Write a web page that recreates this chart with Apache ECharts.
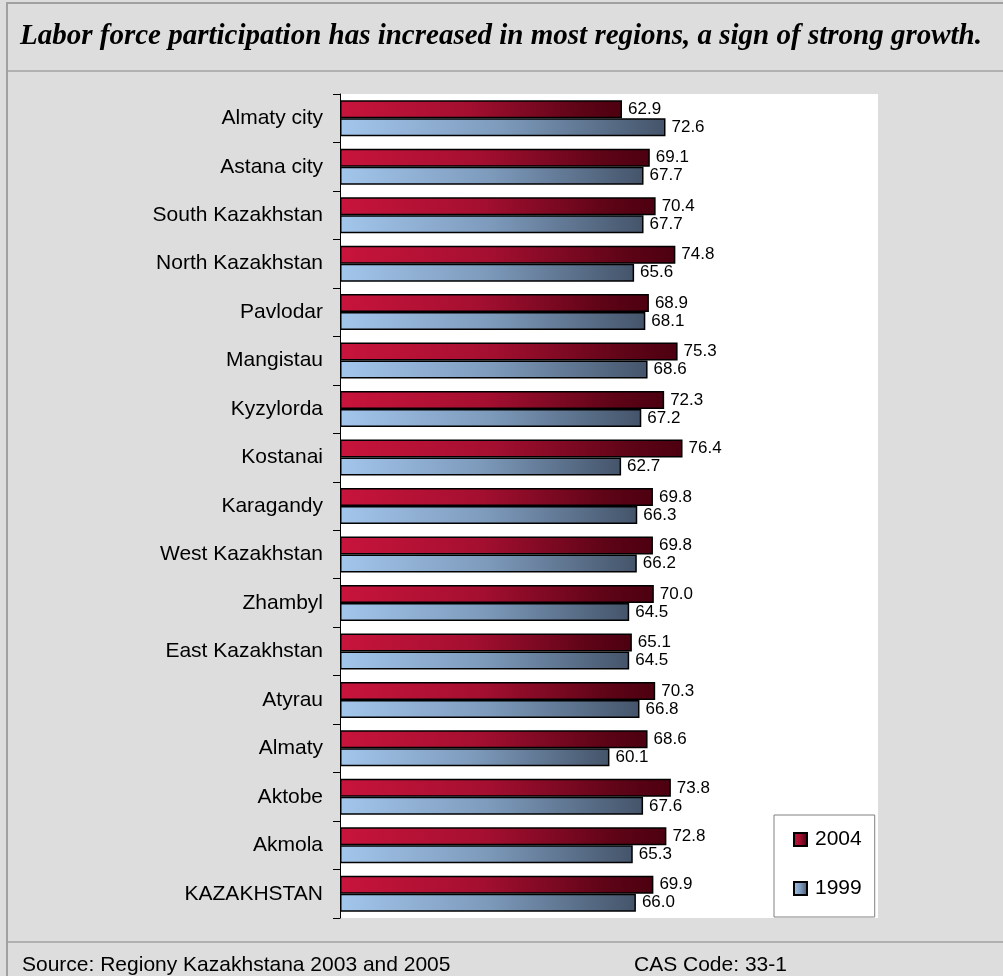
<!DOCTYPE html>
<html>
<head>
<meta charset="utf-8">
<style>
  html, body { margin: 0; padding: 0; background: #dddddd; }
  #chart { width: 1003px; height: 976px; }
</style>
<script src="https://cdn.jsdelivr.net/npm/echarts@6/dist/echarts.min.js"></script>
</head>
<body>
<div id="chart"></div>
<script>
// Regions, listed top to bottom
const regions = [
  'Almaty city', 'Astana city', 'South Kazakhstan', 'North Kazakhstan', 'Pavlodar',
  'Mangistau', 'Kyzylorda', 'Kostanai', 'Karagandy', 'West Kazakhstan', 'Zhambyl',
  'East Kazakhstan', 'Atyrau', 'Almaty', 'Aktobe', 'Akmola', 'KAZAKHSTAN'
];
// Labor force participation rate, %
const rate2004 = [62.9, 69.1, 70.4, 74.8, 68.9, 75.3, 72.3, 76.4, 69.8, 69.8, 70.0, 65.1, 70.3, 68.6, 73.8, 72.8, 69.9];
const rate1999 = [72.6, 67.7, 67.7, 65.6, 68.1, 68.6, 67.2, 62.7, 66.3, 66.2, 64.5, 64.5, 66.8, 60.1, 67.6, 65.3, 66.0];
const seriesNames = ['2004', '1999'];

const titleText = 'Labor force participation has increased in most regions, a sign of strong growth.';
const sourceText = 'Source: Regiony Kazakhstana 2003 and 2005';
const codeText = 'CAS Code: 33-1';

const sans = 'Arial, "Liberation Sans", sans-serif';
const serif = '"Times New Roman", "Liberation Serif", serif';

function hGrad(stops) {
  return {
    type: 'linear', x: 0, y: 0, x2: 1, y2: 0,
    colorStops: stops.map(([offset, color]) => ({ offset, color }))
  };
}
const redFill = hGrad([[0, '#c8143c'], [0.45, '#a40f30'], [0.85, '#5e0417'], [1, '#4c0010']]);
const blueFill = hGrad([[0, '#a3c6ec'], [0.5, '#7d9abb'], [1, '#44546a']]);

function barSeries(name, values, fill) {
  return {
    name: name,
    type: 'bar',
    data: values,
    barWidth: 18,
    barGap: '0%',
    itemStyle: { color: fill, borderColor: '#000', borderWidth: 1.5 },
    label: {
      show: true,
      position: 'right',
      distance: 6,
      color: '#000',
      fontFamily: sans,
      fontSize: 17,
      formatter: p => p.value.toFixed(1)
    },
    emphasis: { disabled: true }
  };
}

const chart = echarts.init(document.getElementById('chart'), null, { renderer: 'canvas' });
chart.setOption({
  backgroundColor: '#dddddd',
  animation: false,
  grid: {
    left: 340, right: 125, top: 94, bottom: 58,
    show: true, backgroundColor: '#ffffff', borderWidth: 0,
    containLabel: false
  },
  xAxis: { type: 'value', min: 0, max: 120, show: false },
  yAxis: {
    type: 'category',
    data: regions,
    inverse: true,
    axisLine: { show: true, lineStyle: { color: '#000', width: 1 } },
    axisTick: { show: true, length: 7, lineStyle: { color: '#000' } },
    axisLabel: { color: '#000', fontFamily: sans, fontSize: 21, margin: 17 },
    splitLine: { show: false }
  },
  legend: {
    data: seriesNames,
    orient: 'vertical',
    left: 774,
    top: 815,
    padding: [14, 13, 18, 19],
    itemGap: 28,
    itemWidth: 13,
    itemHeight: 13,
    icon: 'rect',
    backgroundColor: '#ffffff',
    borderColor: '#808080',
    borderWidth: 1,
    textStyle: { color: '#000', fontFamily: sans, fontSize: 21, padding: [0, 0, 0, 3] }
  },
  series: [
    barSeries(seriesNames[0], rate2004, redFill),
    barSeries(seriesNames[1], rate1999, blueFill)
  ],
  graphic: [
    // outer frame and separators
    { type: 'rect', silent: true, shape: { x: 7, y: 3, width: 1010, height: 1000 },
      style: { fill: null, stroke: '#a0a0a0', lineWidth: 2 } },
    { type: 'line', silent: true, shape: { x1: 7, y1: 71, x2: 1003, y2: 71 },
      style: { stroke: '#a0a0a0', lineWidth: 1.5 } },
    { type: 'line', silent: true, shape: { x1: 7, y1: 942, x2: 1003, y2: 942 },
      style: { stroke: '#a0a0a0', lineWidth: 1.5 } },
    { type: 'text', silent: true, x: 20, y: 37,
      style: { text: titleText, fill: '#000', font: 'italic bold 29px ' + serif,
               textAlign: 'left', textVerticalAlign: 'middle' } },
    { type: 'text', silent: true, x: 22, y: 965,
      style: { text: sourceText, fill: '#000', font: '21px ' + sans,
               textAlign: 'left', textVerticalAlign: 'middle' } },
    { type: 'text', silent: true, x: 634, y: 965,
      style: { text: codeText, fill: '#000', font: '21px ' + sans,
               textAlign: 'left', textVerticalAlign: 'middle' } }
  ]
});
</script>
</body>
</html>
